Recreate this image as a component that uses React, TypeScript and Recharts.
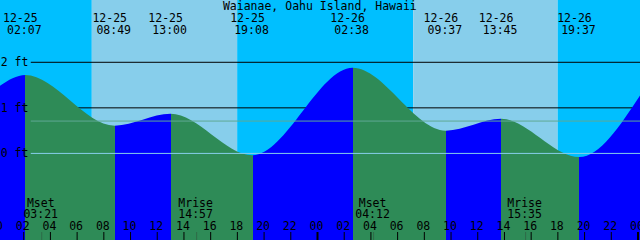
import React from "react";
import {
  ComposedChart,
  Area,
  XAxis,
  YAxis,
  ReferenceArea,
  ReferenceLine,
} from "recharts";

const TITLE = "Waianae, Oahu Island, Hawaii";

// high / low tides
const EXTREME_DATES = ["12-25", "12-25", "12-25", "12-25", "12-26", "12-26", "12-26", "12-26"];
const EXTREME_TIMES = ["02:07", "08:49", "13:00", "19:08", "02:38", "09:37", "13:45", "19:37"];
const EXTREME_FEET = [1.72, 0.61, 0.87, -0.04, 1.88, 0.5, 0.76, -0.08];

// where the window cuts the curve
const EDGE_DATES = ["12-25", "12-27"];
const EDGE_TIMES = ["00:00", "00:09"];
const EDGE_FEET = [1.44, 1.27];

const MOON_EVENTS = ["Mset", "Mrise", "Mset", "Mrise"];
const MOON_DATES = ["12-25", "12-25", "12-26", "12-26"];
const MOON_TIMES = ["03:21", "14:57", "04:12", "15:35"];

const SUNRISE_DATES = ["12-25", "12-26"];
const SUNRISE_TIMES = ["07:06", "07:10"];
const SUNSET_DATES = ["12-25", "12-26"];
const SUNSET_TIMES = ["17:59", "17:59"];

const FEET_TICKS = [0, 1, 2];
const MSL_FEET = 0.71;
const HOUR_TICKS = [0, 2, 4, 6, 8, 10, 12, 14, 16, 18, 20, 22, 24, 26, 28, 30, 32, 34, 36, 38, 40, 42, 44, 46, 48];

const W = 642;
const H = 240;
const SHIFT = 1.7;
const X_MAX = 48.15;
const Y_MIN = -1.944;
const Y_MAX = 3.389;
const LINE_START = 2.53;

const NIGHT = "#00bfff";
const DAY = "#87ceeb";
const RISE = "#0000ff";
const FALL = "#2e8b57";
const DATUM = "#87ceeb";
const MSL = "#5fa894";
const MOON = "#2f6a48";

const FONT = {
  fontFamily: "'DejaVu Sans Mono', monospace",
  fontSize: 11.5,
  fill: "#000",
};

function hoursOf(date: string, time: string) {
  const day = Number(date.slice(3)) - 25;
  const [hh, mm] = time.split(":").map(Number);
  return day * 24 + hh + mm / 60;
}

const extremeHours = EXTREME_TIMES.map((t, i) => hoursOf(EXTREME_DATES[i], t));
const moonHours = MOON_TIMES.map((t, i) => hoursOf(MOON_DATES[i], t));

const tide = [
  ...EDGE_FEET.map((f, i) => ({ t: hoursOf(EDGE_DATES[i], EDGE_TIMES[i]), feet: f })),
  ...EXTREME_FEET.map((f, i) => ({ t: extremeHours[i], feet: f })),
].sort((a, b) => a.t - b.t);

const sunrise = SUNRISE_TIMES.map((t, i) => hoursOf(SUNRISE_DATES[i], t));
const sunset = SUNSET_TIMES.map((t, i) => hoursOf(SUNSET_DATES[i], t));
const bandEdges = [0, sunrise[0], sunset[0], sunrise[1], sunset[1], X_MAX];

const pad = (n: number) => String(n).padStart(2, "0");

function HourTick(props: any) {
  const { x, payload } = props;
  const v = payload.value as number;
  return (
    <g>
      <line x1={x} x2={x} y1={H - 8} y2={H} stroke="#000" strokeWidth={v % 24 === 0 ? 2 : 1} />
      <text x={x - 1} y={229.5} textAnchor="middle" style={FONT}>
        {pad(v % 24)}
      </text>
    </g>
  );
}

function MoonTick(props: any) {
  const { x, index } = props;
  return (
    <g>
      <line x1={x} x2={x} y1={H - 8} y2={H} stroke={MOON} />
      <text x={x - 1} y={206.7} textAnchor="middle" style={FONT}>
        {MOON_EVENTS[index]}
      </text>
      <text x={x - 1} y={218.3} textAnchor="middle" style={FONT}>
        {MOON_TIMES[index]}
      </text>
    </g>
  );
}

function ExtremeTick(props: any) {
  const { x, index } = props;
  return (
    <g>
      <text x={x - 5} y={21.7} textAnchor="middle" style={FONT}>
        {EXTREME_DATES[index]}
      </text>
      <text x={x - 1} y={34} textAnchor="middle" style={FONT}>
        {EXTREME_TIMES[index]}
      </text>
    </g>
  );
}

function FeetTick(props: any) {
  const { y, payload } = props;
  return (
    <text x={SHIFT + 1} y={y + 4} textAnchor="start" style={FONT}>
      {`${payload.value} ft`}
    </text>
  );
}

export default function App() {
  const stops: React.ReactElement[] = [];
  for (let i = 0; i < tide.length - 1; i++) {
    const color = tide[i + 1].feet > tide[i].feet ? RISE : FALL;
    stops.push(<stop key={`a${i}`} offset={tide[i].t / X_MAX} stopColor={color} />);
    stops.push(<stop key={`b${i}`} offset={tide[i + 1].t / X_MAX} stopColor={color} />);
  }

  // axes need a size of at least 1px to draw, the negative margins give it back
  return (
    <div style={{ position: "absolute", left: -SHIFT, top: 0, width: W, height: H }}>
      <ComposedChart
        width={W}
        height={H}
        data={tide}
        margin={{ top: -1, right: 0, bottom: -2, left: -1 }}
      >
        <defs>
          <linearGradient id="tideFill" x1="0" y1="0" x2="1" y2="0">
            {stops}
          </linearGradient>
        </defs>

        {bandEdges.slice(0, -1).map((x1, i) => (
          <ReferenceArea
            key={`band${i}`}
            x1={x1}
            x2={bandEdges[i + 1]}
            fill={i % 2 === 0 ? NIGHT : DAY}
            fillOpacity={1}
            stroke="none"
            ifOverflow="extendDomain"
            zIndex={-200}
          />
        ))}

        <ReferenceLine
          segment={[{ x: LINE_START, y: 2 }, { x: X_MAX, y: 2 }]}
          stroke="#000"
          zIndex={-150}
        />
        <ReferenceLine
          segment={[{ x: LINE_START, y: 1 }, { x: X_MAX, y: 1 }]}
          stroke="#000"
          zIndex={-150}
        />

        <Area
          dataKey="feet"
          type="monotone"
          stroke="none"
          fill="url(#tideFill)"
          fillOpacity={1}
          baseValue={Y_MIN}
          dot={false}
          activeDot={false}
          isAnimationActive={false}
        />

        <ReferenceLine
          segment={[{ x: LINE_START, y: MSL_FEET }, { x: X_MAX, y: MSL_FEET }]}
          stroke={MSL}
          zIndex={450}
        />
        <ReferenceLine
          segment={[{ x: LINE_START, y: 0 }, { x: X_MAX, y: 0 }]}
          stroke={DATUM}
          zIndex={450}
        />

        <XAxis
          dataKey="t"
          type="number"
          domain={[0, X_MAX]}
          allowDataOverflow
          ticks={HOUR_TICKS}
          interval={0}
          orientation="bottom"
          mirror
          height={1}
          axisLine={false}
          tickLine={false}
          tick={HourTick}
        />
        <XAxis
          xAxisId="moon"
          dataKey="t"
          type="number"
          domain={[0, X_MAX]}
          allowDataOverflow
          ticks={moonHours}
          interval={0}
          orientation="bottom"
          mirror
          height={1}
          axisLine={false}
          tickLine={false}
          tick={MoonTick}
        />
        <XAxis
          xAxisId="ext"
          dataKey="t"
          type="number"
          domain={[0, X_MAX]}
          allowDataOverflow
          ticks={extremeHours}
          interval={0}
          orientation="top"
          mirror
          height={1}
          axisLine={false}
          tickLine={false}
          tick={ExtremeTick}
        />
        <YAxis
          type="number"
          domain={[Y_MIN, Y_MAX]}
          allowDataOverflow
          ticks={FEET_TICKS}
          interval={0}
          mirror
          width={1}
          axisLine={false}
          tickLine={false}
          tick={FeetTick}
        />

        <text x={W / 2 + SHIFT / 2} y={10} textAnchor="middle" style={FONT}>
          {TITLE}
        </text>
      </ComposedChart>
    </div>
  );
}
